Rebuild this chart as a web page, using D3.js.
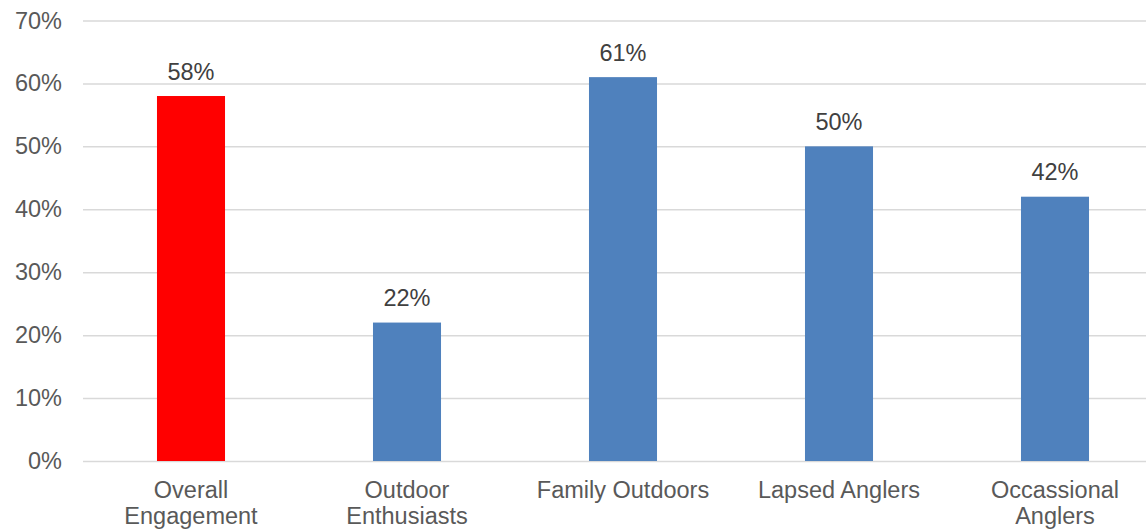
<!DOCTYPE html>
<html>
<head>
<meta charset="utf-8">
<script src="https://cdn.jsdelivr.net/npm/d3@7"></script>
<style>
  body { margin: 0; background: #fff; }
  svg { display: block; font-family: "Liberation Sans", Arial, sans-serif; }
  .y.axis text { fill: #595959; font-size: 23.5px; }
  .x.axis text { fill: #595959; font-size: 23.5px; }
  .label { fill: #404040; font-size: 23.5px; }
</style>
</head>
<body>
<svg id="bar-chart" width="1146" height="531"></svg>
<script>
let categories = [
  ["Overall", "Engagement"],
  ["Outdoor", "Enthusiasts"],
  ["Family Outdoors"],
  ["Lapsed Anglers"],
  ["Occassional", "Anglers"]
]
let values = [0.58, 0.22, 0.61, 0.50, 0.42]
let barColors = ["#ff0000", "#4f81bd", "#4f81bd", "#4f81bd", "#4f81bd"]
let yTicks = [0, 0.1, 0.2, 0.3, 0.4, 0.5, 0.6, 0.7]

let svg = d3.select("#bar-chart")
let width = 1146
let margin = { top: 20.5, bottom: 70, left: 83 }
let plotBottom = 461

let data = categories.map((c, i) => ({ key: c.join(" "), lines: c, value: values[i], color: barColors[i] }))

// band continues past the window edge, like the original
let x = d3.scaleBand()
  .domain(data.map(d => d.key))
  .range([margin.left, margin.left + 5 * 216])
  .paddingInner(0.685)
  .paddingOuter(0.3425)

let y = d3.scaleLinear()
  .domain([0, 0.7])
  .range([plotBottom, margin.top])

// gridlines + y labels
let yAxis = svg.append("g")
  .attr("class", "y axis")
  .attr("transform", `translate(${margin.left},0)`)
  .call(d3.axisLeft(y)
    .tickValues(yTicks)
    .tickSize(-(width - margin.left))
    .tickPadding(21)
    .tickFormat(d3.format(".0%")))
  .call(g => g.select(".domain").remove())

yAxis.selectAll(".tick line")
  .attr("stroke", "#d9d9d9")
  .attr("stroke-width", 1.5)

// bars
svg.append("g")
  .selectAll("rect")
  .data(data)
  .join("rect")
  .attr("x", d => x(d.key))
  .attr("width", x.bandwidth())
  .attr("y", d => y(d.value))
  .attr("height", d => y(0) - y(d.value))
  .attr("fill", d => d.color)

// value labels
svg.append("g")
  .selectAll("text")
  .data(data)
  .join("text")
  .attr("class", "label")
  .attr("x", d => x(d.key) + x.bandwidth() / 2)
  .attr("y", d => y(d.value) - 16.5)
  .attr("text-anchor", "middle")
  .text(d => d3.format(".0%")(d.value))

// category labels (wrapped)
let xAxis = svg.append("g").attr("class", "x axis")
xAxis.selectAll("text")
  .data(data)
  .join("text")
  .attr("x", d => x(d.key) + x.bandwidth() / 2)
  .attr("y", plotBottom + 37)
  .attr("text-anchor", "middle")
  .selectAll("tspan")
  .data(d => d.lines.map(l => ({ l, cx: x(d.key) + x.bandwidth() / 2 })))
  .join("tspan")
  .attr("x", t => t.cx)
  .attr("dy", (t, i) => i == 0 ? 0 : 26)
  .text(t => t.l)
</script>
</body>
</html>
